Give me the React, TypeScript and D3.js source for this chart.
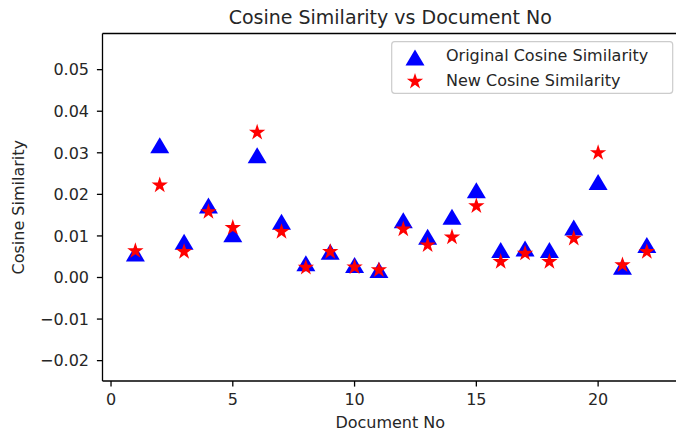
import React from "react";
import * as d3 from "d3";

const docs = [1, 2, 3, 4, 5, 6, 7, 8, 9, 10, 11, 12, 13, 14, 15, 16, 17, 18, 19, 20, 21, 22];
const originalSim = [0.0058, 0.0318, 0.0086, 0.0173, 0.0104, 0.0294, 0.0134, 0.0034, 0.0062, 0.0030, 0.0018, 0.0138, 0.0098, 0.0146, 0.0210, 0.0066, 0.0070, 0.0066, 0.0120, 0.0230, 0.0026, 0.0078];
const newSim = [0.0064, 0.0222, 0.0062, 0.0158, 0.0120, 0.0349, 0.0110, 0.0024, 0.0062, 0.0025, 0.0018, 0.0116, 0.0078, 0.0097, 0.0172, 0.0038, 0.0058, 0.0038, 0.0094, 0.0300, 0.0030, 0.0062];
const xTicks = [0, 5, 10, 15, 20];
const yTicks = [-0.02, -0.01, 0.0, 0.01, 0.02, 0.03, 0.04, 0.05];
const seriesNames = ["Original Cosine Similarity", "New Cosine Similarity"];

const W = 676, H = 435;
const left = 102.5, right = 678, top = 33.5, bottom = 381;
const FONT = "DejaVu Sans, sans-serif";
const TXT = "#262626";

const x = d3.scaleLinear().domain([-0.35, 23.28]).range([left, right]);
const y = d3.scaleLinear().domain([-0.0249, 0.0587]).range([bottom, top]);

function triPath(cx: number, cy: number) {
  return `M${cx},${cy - 8}L${cx + 9.5},${cy + 8}L${cx - 9.5},${cy + 8}Z`;
}
function starPath(cx: number, cy: number) {
  const R = 8.6, r = R * 0.381966;
  const pts: string[] = [];
  for (let i = 0; i < 10; i++) {
    const a = -Math.PI / 2 + (i * Math.PI) / 5;
    const rad = i % 2 === 0 ? R : r;
    pts.push(`${cx + rad * Math.cos(a)},${cy + rad * Math.sin(a)}`);
  }
  return "M" + pts.join("L") + "Z";
}
function fmtY(v: number) {
  const s = Math.abs(v).toFixed(2);
  return v < -1e-9 ? "\u2212" + s : s;
}

export default function App() {
  return (
    <svg width={W} height={H} style={{ position: "absolute", left: 0, top: 0, background: "#fff" }} fontFamily={FONT}>
      <rect x={0} y={0} width={W} height={H} fill="#fff" />
      {/* title */}
      <text x={(left + right) / 2} y={24} textAnchor="middle" fontSize={19} fill={TXT}>
        Cosine Similarity vs Document No
      </text>
      {/* markers */}
      <g>
        {docs.map((d, i) => (
          <path key={"t" + i} d={triPath(x(d), y(originalSim[i]))} fill="#0000ff" />
        ))}
        {docs.map((d, i) => (
          <path key={"s" + i} d={starPath(x(d), y(newSim[i]))} fill="#ff0000" />
        ))}
      </g>
      {/* spines */}
      <g stroke="#000" strokeWidth={1.3} fill="none">
        <line x1={left} x2={left} y1={top} y2={bottom} />
        <line x1={left} x2={right} y1={bottom} y2={bottom} />
        <line x1={left} x2={right} y1={top} y2={top} />
        <line x1={right} x2={right} y1={top} y2={bottom} />
      </g>
      {/* x ticks */}
      <g>
        {xTicks.map((t) => (
          <g key={t}>
            <line x1={x(t)} x2={x(t)} y1={bottom} y2={bottom + 5.6} stroke="#000" strokeWidth={1.3} />
            <text x={x(t)} y={405} textAnchor="middle" fontSize={16} fill={TXT}>{t}</text>
          </g>
        ))}
      </g>
      {/* y ticks */}
      <g>
        {yTicks.map((t) => (
          <g key={t}>
            <line x1={left} x2={left - 5.6} y1={y(t)} y2={y(t)} stroke="#000" strokeWidth={1.3} />
            <text x={89} y={y(t)} dy="0.36em" textAnchor="end" fontSize={16} fill={TXT}>{fmtY(t)}</text>
          </g>
        ))}
      </g>
      {/* axis labels */}
      <text x={(left + right) / 2} y={428} textAnchor="middle" fontSize={16} fill={TXT}>Document No</text>
      <text transform={`translate(24,${(top + bottom) / 2}) rotate(-90)`} textAnchor="middle" fontSize={16} fill={TXT}>
        Cosine Similarity
      </text>
      {/* legend */}
      <g>
        <rect x={391.7} y={41.7} width={281} height={51.6} rx={3} fill="#fff" fillOpacity={0.8} stroke="#cccccc" strokeWidth={1.2} />
        <path d={triPath(415, 57.5)} fill="#0000ff" />
        <path d={starPath(415, 81.5)} fill="#ff0000" />
        <text x={446} y={61} fontSize={16} fill={TXT}>{seriesNames[0]}</text>
        <text x={446} y={85.5} fontSize={16} fill={TXT}>{seriesNames[1]}</text>
      </g>
    </svg>
  );
}
